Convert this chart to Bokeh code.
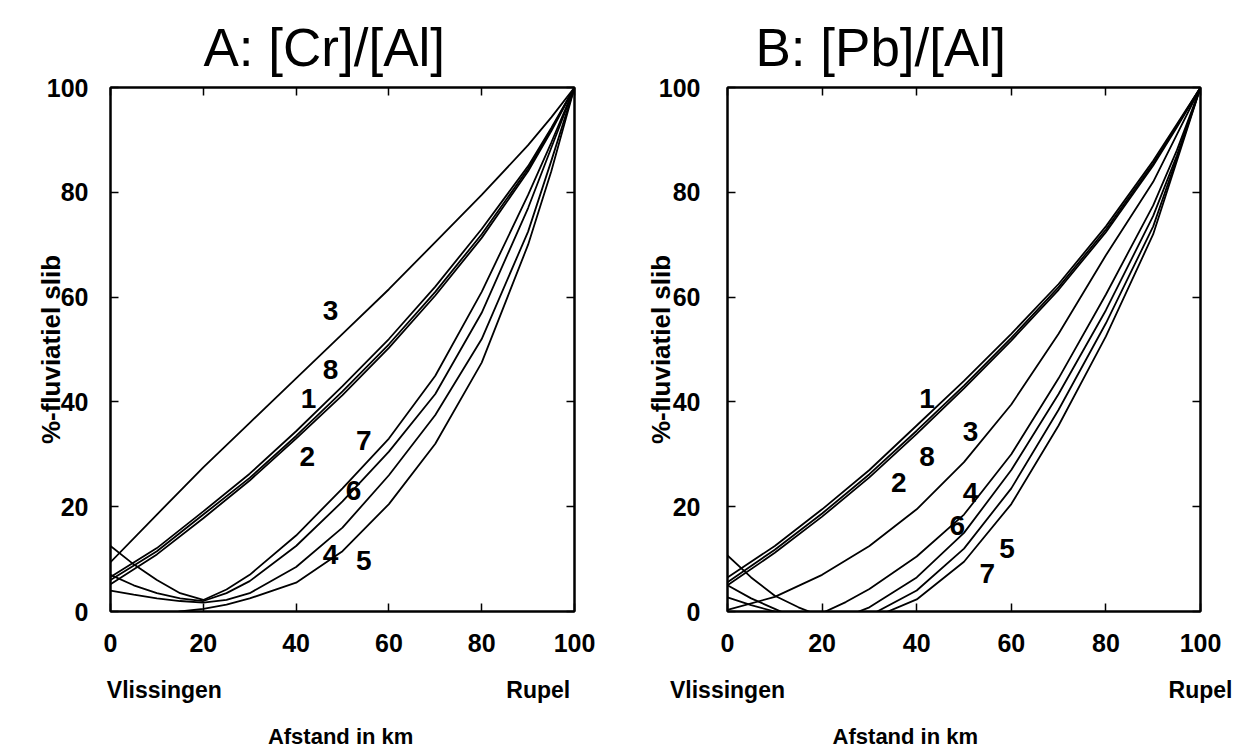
from bokeh.plotting import figure
from bokeh.layouts import row
from bokeh.models import Range1d, LinearAxis, FixedTicker, Label
from bokeh.embed import file_html
from bokeh.resources import INLINE

# ---------------- data ----------------
titles = ["A: [Cr]/[Al]", "B: [Pb]/[Al]"]
y_label = "%-fluviatiel slib"
x_label = "Afstand in km"
left_name = "Vlissingen"
right_name = "Rupel"
ticks = [0, 20, 40, 60, 80, 100]

# Panel A (km distance, % fluvial mud)
km_a = [0, 10, 20, 30, 40, 50, 60, 70, 80, 90, 95, 100]
a_1 = [6.0, 11.5, 18.5, 25.5, 33.5, 42.0, 51.0, 61.0, 72.0, 84.5, 92.0, 100]
a_8 = [6.6, 12.1, 19.1, 26.3, 34.4, 43.0, 52.0, 62.0, 73.0, 85.0, 92.3, 100]
a_2 = [5.2, 10.9, 17.8, 25.0, 33.0, 41.3, 50.3, 60.3, 71.3, 84.0, 91.7, 100]
a_3 = [9.4, 18.5, 27.5, 36.0, 44.5, 53.0, 61.5, 70.5, 79.5, 89.0, 94.3, 100]
km_af = [0, 5, 10, 15, 20, 25, 30, 40, 50, 60, 70, 80, 90, 95, 100]
a_7 = [12.5, 9.0, 6.0, 3.5, 2.2, 4.2, 7.0, 14.5, 23.5, 33.0, 45.0, 61.0, 79.5, 89.5, 100]
a_6 = [7.0, 5.0, 3.5, 2.5, 2.0, 3.5, 5.8, 12.5, 21.0, 30.5, 41.5, 57.0, 77.0, 88.5, 100]
a_4 = [4.0, 3.2, 2.5, 2.0, 1.7, 2.2, 3.5, 8.5, 16.0, 26.0, 37.5, 52.0, 72.5, 86.0, 100]
km_a5 = [10, 15, 20, 25, 30, 40, 50, 60, 70, 80, 90, 95, 100]
a_5 = [-1.0, 0.0, 0.5, 1.3, 2.5, 5.5, 11.5, 20.5, 32.0, 47.5, 70.0, 84.0, 100]

# Panel B
km_b = [0, 10, 20, 30, 40, 50, 60, 70, 80, 90, 95, 100]
b_1 = [6.5, 12.5, 19.5, 27.0, 35.5, 44.0, 53.0, 62.5, 73.5, 86.0, 93.0, 100]
b_8 = [5.6, 11.8, 18.7, 26.2, 34.5, 43.1, 52.2, 61.9, 72.9, 85.5, 92.7, 100]
b_2 = [5.0, 11.2, 18.1, 25.6, 33.9, 42.6, 51.7, 61.4, 72.4, 85.1, 92.4, 100]
b_3 = [0.3, 2.8, 7.0, 12.5, 19.5, 28.5, 39.5, 53.0, 68.0, 82.0, 91.0, 100]
km_bf = [0, 5, 10, 15, 20, 25, 30, 40, 50, 60, 70, 80, 90, 95, 100]
b_4 = [-5.0, -5.5, -5.0, -3.0, -0.3, 1.8, 4.3, 10.5, 18.5, 30.0, 44.5, 60.5, 77.5, 88.0, 100]
b_6 = [2.7, 1.2, 0.0, -1.3, -2.0, -1.0, 0.8, 6.5, 15.0, 27.0, 41.5, 57.5, 75.5, 87.0, 100]
b_5 = [5.0, 2.5, 0.5, -1.5, -3.0, -2.5, -0.8, 4.0, 12.0, 23.5, 38.5, 55.0, 73.5, 86.5, 100]
b_7 = [10.7, 6.5, 3.0, 0.8, -1.0, -2.5, -1.5, 2.3, 9.5, 20.5, 35.5, 52.5, 72.0, 86.0, 100]

# curve labels: (text, km, %)
labels_a = [("3", 47.4, 57.4), ("8", 47.4, 46.2), ("1", 42.7, 40.7), ("2", 42.4, 29.6),
            ("7", 54.6, 32.6), ("6", 52.4, 23.1), ("4", 47.4, 10.8), ("5", 54.6, 9.7)]
labels_b = [("1", 42.2, 40.7), ("3", 51.4, 34.3), ("8", 42.2, 29.5), ("2", 36.2, 24.7),
            ("4", 51.4, 22.7), ("6", 48.6, 16.5), ("5", 59.1, 12.1), ("7", 54.9, 7.3)]

FONT = "Liberation Sans"


def text_axis(ticks_at, texts, standoff, size):
    ax = LinearAxis(ticker=FixedTicker(ticks=ticks_at),
                    major_label_overrides=dict(zip(ticks_at, texts)))
    ax.axis_line_color = None
    ax.major_tick_line_color = None
    ax.minor_tick_line_color = None
    ax.major_tick_in = 0
    ax.major_tick_out = 0
    ax.major_label_standoff = standoff
    ax.major_label_text_font = FONT
    ax.major_label_text_font_style = "bold"
    ax.major_label_text_font_size = size
    ax.major_label_text_color = "black"
    return ax


def make_panel(title, curves, labels, bl, fw, br, geo):
    t_off, tick_so, ylab_so, name_pos, xlab_pos = geo
    p = figure(frame_width=fw, frame_height=524, min_border_left=bl, min_border_right=br,
               min_border_top=87, min_border_bottom=138,
               x_range=Range1d(0, 100), y_range=Range1d(0, 100),
               output_backend="svg", toolbar_location=None)
    p.grid.visible = False
    p.outline_line_color = "black"
    p.outline_line_width = 2
    p.background_fill_color = "white"
    p.border_fill_color = "white"

    # top / right frame ticks without labels (drawn as minor ticks)
    for side in ("above", "right"):
        ax = LinearAxis(ticker=FixedTicker(ticks=[], minor_ticks=ticks))
        ax.axis_line_color = "black"
        ax.axis_line_width = 2
        ax.minor_tick_in = 8
        ax.minor_tick_out = 0
        ax.minor_tick_line_width = 1.5
        ax.minor_tick_line_color = "black"
        p.add_layout(ax, side)

    for ax in (p.below[0], p.left[0]):
        ax.ticker = ticks
        ax.axis_line_color = "black"
        ax.axis_line_width = 2
        ax.major_tick_in = 8
        ax.major_tick_out = 0
        ax.major_tick_line_width = 1.5
        ax.major_tick_line_color = "black"
        ax.minor_tick_line_color = None
        ax.major_label_text_font = FONT
        ax.major_label_text_font_style = "bold"
        ax.major_label_text_font_size = "25px"
        ax.major_label_text_color = "black"
    p.below[0].major_label_standoff = 22
    p.left[0].major_label_standoff = tick_so
    p.left[0].axis_label = y_label
    p.left[0].axis_label_text_font = FONT
    p.left[0].axis_label_text_font_style = "bold"
    p.left[0].axis_label_text_font_size = "26px"
    p.left[0].axis_label_text_color = "black"
    p.left[0].axis_label_standoff = ylab_so

    p.add_layout(text_axis(name_pos, [left_name, right_name], 22, "23px"), "below")
    p.add_layout(text_axis([xlab_pos], [x_label], 18, "22px"), "below")

    p.title.text = title
    p.title.align = "left"
    p.title.offset = t_off
    p.title.text_font = FONT
    p.title.text_font_style = "normal"
    p.title.text_font_size = "53px"
    p.title.text_color = "black"
    p.title.standoff = 22

    for xs, ys in curves:
        p.line(xs, ys, line_color="black", line_width=1.8)

    for t, x, y in labels:
        p.add_layout(Label(x=x, y=y, text=t, text_font=FONT, text_font_style="bold",
                           text_font_size="28px", text_align="center",
                           text_baseline="middle", text_color="black"))
    return p


curves_a = [(km_a, a_1), (km_a, a_8), (km_a, a_2), (km_a, a_3),
            (km_af, a_7), (km_af, a_6), (km_af, a_4), (km_a5, a_5)]
curves_b = [(km_b, b_1), (km_b, b_8), (km_b, b_2), (km_b, b_3),
            (km_bf, b_4), (km_bf, b_6), (km_bf, b_5), (km_bf, b_7)]

pa = make_panel(titles[0], curves_a, labels_a, 110, 464, 46,
                (93, 22, -22, [11.6, 92.2], 49.6))
pb = make_panel(titles[1], curves_b, labels_b, 107, 473, 48,
                (28, 27, -20, [0, 100], 37.6))

layout = row(pa, pb)
open("out.html", "w").write(file_html(layout, INLINE))
